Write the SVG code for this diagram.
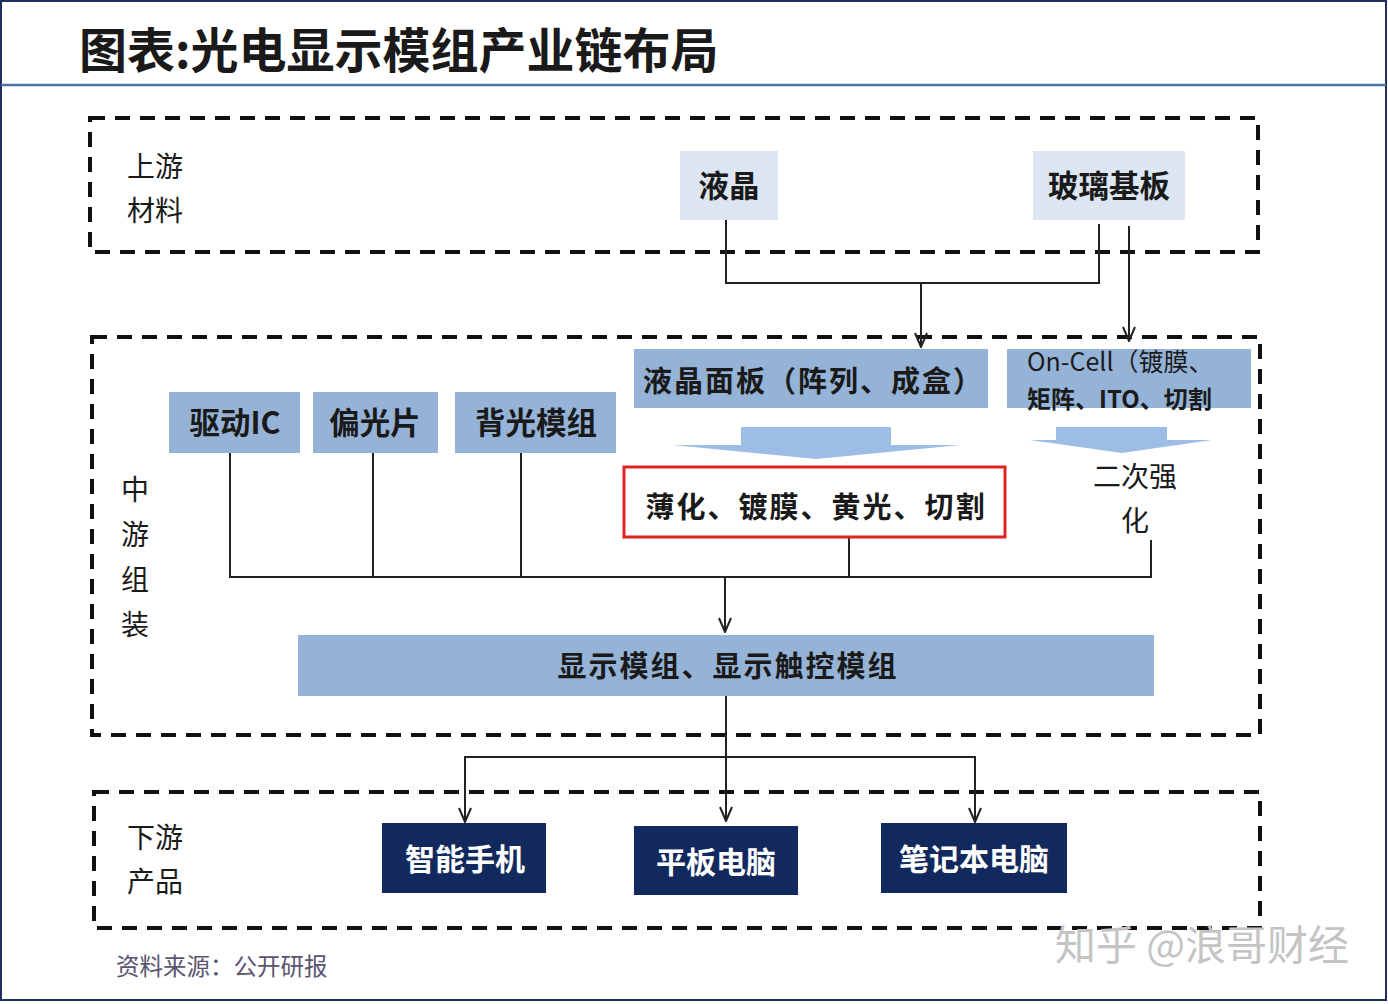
<svg xmlns="http://www.w3.org/2000/svg" width="1388" height="1004" viewBox="0 0 1388 1004">
<defs>
<style>
.t{font-family:"Noto Sans CJK SC","Liberation Sans",sans-serif;fill:#1a1a1a}
.b{font-weight:700}
.lb{font-size:28px}
.sb{font-size:30.5px}
.bx{font-size:29px;letter-spacing:2px}
.box{fill:#95b3d7}
.lbox{fill:#dce6f2}
.dbox{fill:#12295e}
.dash{fill:none;stroke:#111;stroke-width:4;stroke-dasharray:15 10}
.ln{fill:none;stroke:#222;stroke-width:2}
.blk{fill:#9dbde6}
.wt{fill:#fff}
</style>
<marker id="ah" markerWidth="16" markerHeight="14" refX="15" refY="7" orient="auto-start-reverse" markerUnits="userSpaceOnUse" viewBox="0 0 16 14">
<path d="M1,1 L15,7 L1,13" fill="none" stroke="#222" stroke-width="2"/>
</marker>
</defs>
<rect x="0" y="0" width="1388" height="1004" fill="#fff"/>
<rect x="1" y="1" width="1385" height="999" fill="none" stroke="#1f2f5f" stroke-width="2"/>
<line x1="1" y1="85" x2="1386" y2="85" stroke="#4f73a8" stroke-width="2.5"/>
<text class="t b" x="79" y="68" font-size="48">图表:光电显示模组产业链布局</text>

<g id="zones">
<rect class="dash" x="90" y="118" width="1168" height="134"/>
<rect class="dash" x="92" y="337" width="1168" height="398"/>
<rect class="dash" x="94" y="792" width="1166" height="136"/>
</g>

<g id="labels">
<text class="t lb" x="127" y="177">上游</text>
<text class="t lb" x="127" y="221">材料</text>
<text class="t lb" x="121" y="500">中</text>
<text class="t lb" x="121" y="545">游</text>
<text class="t lb" x="121" y="590">组</text>
<text class="t lb" x="121" y="635">装</text>
<text class="t lb" x="127" y="848">下游</text>
<text class="t lb" x="127" y="892">产品</text>
</g>

<g id="connectors">
<polyline class="ln" points="726,220 726,283 1099,283 1099,224"/>
<line class="ln" x1="921" y1="283" x2="921" y2="347" marker-end="url(#ah)"/>
<line class="ln" x1="1129" y1="226" x2="1129" y2="341" marker-end="url(#ah)"/>
<line class="ln" x1="230" y1="453" x2="230" y2="577"/>
<line class="ln" x1="373" y1="453" x2="373" y2="577"/>
<line class="ln" x1="521" y1="453" x2="521" y2="577"/>
<line class="ln" x1="849" y1="537" x2="849" y2="577"/>
<line class="ln" x1="1151" y1="540" x2="1151" y2="577"/>
<line class="ln" x1="229" y1="577" x2="1152" y2="577"/>
<line class="ln" x1="725" y1="577" x2="725" y2="632" marker-end="url(#ah)"/>
<line class="ln" x1="726" y1="696" x2="726" y2="821" marker-end="url(#ah)"/>
<polyline class="ln" points="465,822 465,757 975,757 975,822" marker-start="url(#ah)" marker-end="url(#ah)"/>
</g>

<g id="n-yejing">
<rect class="lbox" x="680" y="151" width="98" height="69"/>
<text class="t b sb" x="729" y="197" text-anchor="middle">液晶</text>
</g>
<g id="n-boli">
<rect class="lbox" x="1033" y="151" width="152" height="69"/>
<text class="t b sb" x="1109" y="197" text-anchor="middle">玻璃基板</text>
</g>

<g id="n-panel">
<rect class="box" x="634" y="349" width="354" height="59"/>
<text class="t b bx" x="643" y="392">液晶面板（阵列、成盒）</text>
</g>
<g id="n-oncell">
<rect class="box" x="1007" y="349" width="244" height="59"/>
<text class="t" x="1027" y="371" font-size="25">On-Cell（镀膜、</text>
<text class="t b" x="1027" y="408" font-size="24">矩阵、ITO、切割</text>
</g>

<g id="blockarrows">
<path class="blk" d="M741,427 H891 V445 H961 L816,459 L673,445 H741 Z"/>
<path class="blk" d="M1056,427 H1167 V440 H1212 L1122,453 L1030,440 H1056 Z"/>
</g>

<g id="n-qudong">
<rect class="box" x="169" y="392" width="131" height="61"/>
<text class="t b sb" x="235" y="434" text-anchor="middle">驱动IC</text>
</g>
<g id="n-pianguang">
<rect class="box" x="313" y="392" width="125" height="61"/>
<text class="t b sb" x="375" y="434" text-anchor="middle">偏光片</text>
</g>
<g id="n-beiguang">
<rect class="box" x="455" y="392" width="161" height="61"/>
<text class="t b sb" x="536" y="434" text-anchor="middle">背光模组</text>
</g>

<g id="n-process">
<rect x="624" y="467" width="381" height="70" fill="#fff" stroke="#e02222" stroke-width="3"/>
<text class="t b bx" x="816" y="518" text-anchor="middle">薄化、镀膜、黄光、切割</text>
</g>
<g id="n-qianghua">
<text class="t lb" x="1135" y="487" text-anchor="middle">二次强</text>
<text class="t lb" x="1135" y="531" text-anchor="middle">化</text>
</g>

<g id="n-module">
<rect class="box" x="298" y="635" width="856" height="61"/>
<text class="t b bx" x="728" y="677" text-anchor="middle">显示模组、显示触控模组</text>
</g>

<g id="n-phone">
<rect class="dbox" x="382" y="823" width="164" height="70"/>
<text class="t b wt" x="465" y="870" font-size="30" text-anchor="middle">智能手机</text>
</g>
<g id="n-tablet">
<rect class="dbox" x="634" y="826" width="164" height="69"/>
<text class="t b wt" x="716" y="873" font-size="30" text-anchor="middle">平板电脑</text>
</g>
<g id="n-laptop">
<rect class="dbox" x="881" y="823" width="186" height="70"/>
<text class="t b wt" x="974" y="870" font-size="30" text-anchor="middle">笔记本电脑</text>
</g>

<text class="t" x="116" y="975" font-size="23.5" style="fill:#5a5470">资料来源：公开研报</text>
<text class="t" x="1055" y="960" font-size="41" style="fill:#c4c4c4">知乎 @浪哥财经</text>
</svg>
